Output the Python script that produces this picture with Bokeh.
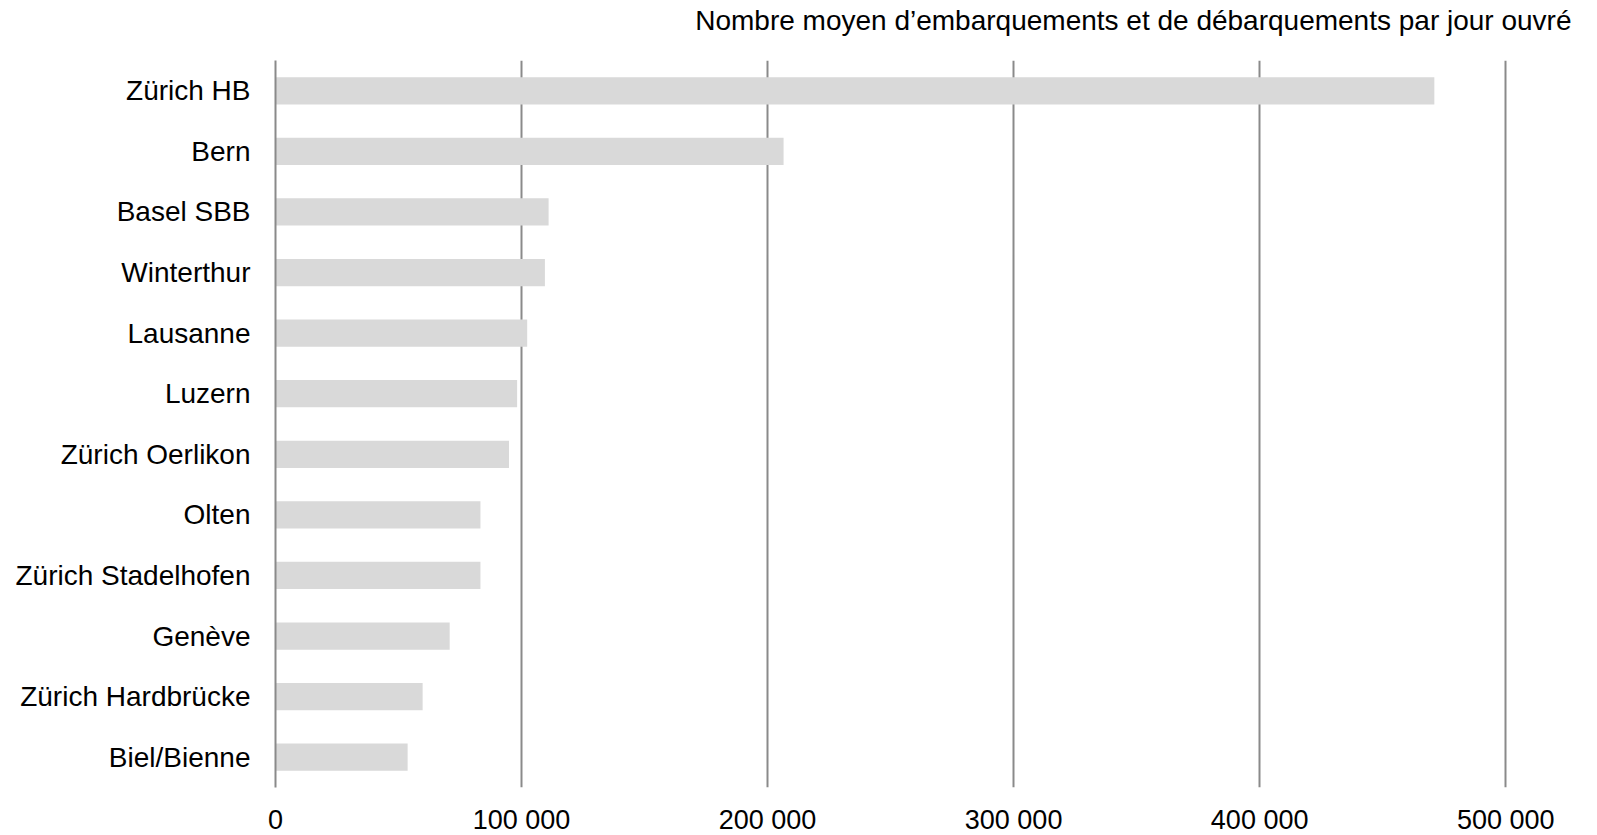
from bokeh.plotting import figure
from bokeh.models import FixedTicker, ColumnDataSource, FactorRange, Title
from bokeh.embed import file_html
from bokeh.resources import INLINE

stations = ["Zürich HB", "Bern", "Basel SBB", "Winterthur", "Lausanne", "Luzern",
            "Zürich Oerlikon", "Olten", "Zürich Stadelhofen", "Genève",
            "Zürich Hardbrücke", "Biel/Bienne"]
passengers = [471000, 206500, 111000, 109500, 102300, 98200,
              94900, 83300, 83300, 70800, 59800, 53700]
tick_values = [0, 100000, 200000, 300000, 400000, 500000]
tick_labels = ["0", "100 000", "200 000", "300 000", "400 000", "500 000"]
title_text = "Nombre moyen d\u2019embarquements et de débarquements par jour ouvré"

FONT = "Liberation Sans"

src = ColumnDataSource(dict(station=stations, value=passengers))

p = figure(width=1581, height=837, output_backend="svg", toolbar_location=None,
           y_range=FactorRange(*reversed(stations), range_padding=0),
           x_range=(0, 526750),
           min_border_left=275, min_border_right=10, min_border_bottom=0,
           min_border_top=0,
           title=title_text)
p.styles = {"margin-bottom": "-18px"}
p.title.align = "right"
p.title.vertical_align = "top"
p.title.text_font = FONT
p.title.text_font_size = "28px"
p.title.text_font_style = "normal"
p.title.text_color = "#000000"
p.title.offset = 0
p.title.standoff = 8

# spacer between the title and the plot frame
spacer = Title(text=" ", text_font_size="14px", standoff=1)
p.add_layout(spacer, "above")

p.hbar(y="station", right="value", left=0, height=0.45, source=src,
       fill_color="#d9d9d9", line_color=None)

p.outline_line_color = None
p.background_fill_color = "white"
p.border_fill_color = "white"

p.ygrid.grid_line_color = None
p.xgrid.ticker = FixedTicker(ticks=tick_values[1:])
p.xgrid.grid_line_color = "#8a8a8a"
p.xgrid.grid_line_width = 2
p.xgrid.level = "underlay"

p.xaxis.ticker = FixedTicker(ticks=tick_values)
p.xaxis.major_label_overrides = {v: l for v, l in zip(tick_values, tick_labels)}
p.xaxis.axis_line_color = None
p.xaxis.major_tick_line_color = None
p.xaxis.minor_tick_line_color = None
p.xaxis.major_tick_out = 0
p.xaxis.major_tick_in = 0
p.xaxis.major_label_standoff = 17
p.xaxis.major_label_text_font = FONT
p.xaxis.major_label_text_font_size = "27px"
p.xaxis.major_label_text_color = "#000000"

p.yaxis.axis_line_color = "#8a8a8a"
p.yaxis.axis_line_width = 2
p.yaxis.major_tick_line_color = None
p.yaxis.minor_tick_line_color = None
p.yaxis.major_tick_out = 0
p.yaxis.major_tick_in = 0
p.yaxis.major_label_standoff = 25
p.yaxis.major_label_text_font = FONT
p.yaxis.major_label_text_font_size = "28px"
p.yaxis.major_label_text_color = "#000000"

open("out.html", "w").write(file_html(p, INLINE))
